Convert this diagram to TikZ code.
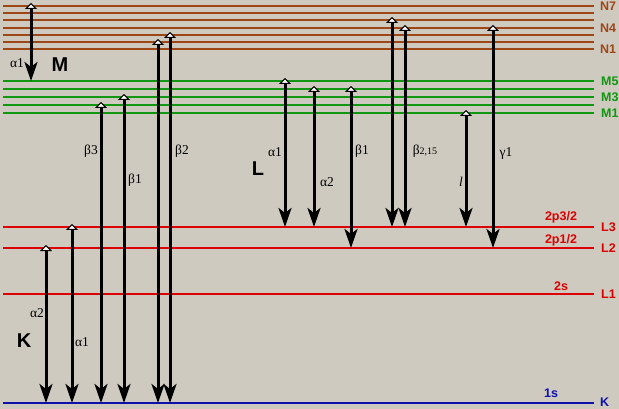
\documentclass[tikz,border=0pt]{standalone}
\usepackage{fontspec}
\setmainfont{Liberation Serif}
\newfontfamily\labfont{Liberation Sans}
\usetikzlibrary{arrows.meta}
\definecolor{bgc}{RGB}{206,202,192}
\definecolor{nbrown}{RGB}{158,70,22}
\definecolor{mgreen}{RGB}{16,150,16}
\definecolor{lred}{RGB}{220,0,0}
\definecolor{kblue}{RGB}{16,16,170}
\tikzset{
  lvl/.style={line width=2pt},
  xarrow/.style={line width=3pt,
    {Triangle[length=6pt,width=12pt,fill=white,line width=1pt]}-{Stealth[length=19pt,width=13pt,inset=5pt]}},
  lvllab/.style={anchor=west,inner sep=0pt,font=\labfont\bfseries\fontsize{12.5}{14}\selectfont},
  sublab/.style={inner sep=0pt,font=\labfont\bfseries\fontsize{12.5}{14}\selectfont},
  grk/.style={inner sep=0pt,font=\fontsize{13.5}{15}\selectfont},
  series/.style={inner sep=0pt,font=\labfont\bfseries\fontsize{20}{22}\selectfont}
}
\begin{document}
\begin{tikzpicture}[x=1pt,y=-1pt]
\fill[bgc] (0,0) rectangle (619,409);
\useasboundingbox (0,0) rectangle (619,409);
% N levels
\foreach \y in {6,13,20,28,35,42,49} \draw[lvl,nbrown] (3,\y) -- (594,\y);
% M levels
\foreach \y in {81,89,97,105,113} \draw[lvl,mgreen] (3,\y) -- (594,\y);
% L levels
\foreach \y in {227,248,294} \draw[lvl,lred] (3,\y) -- (594,\y);
% K level
\draw[lvl,kblue] (3,403) -- (594,403);
% level labels
\node[lvllab,text=nbrown] (N7) at (600,6) {N7};
\node[lvllab,text=nbrown] (N4) at (600,28) {N4};
\node[lvllab,text=nbrown] (N1) at (600,49) {N1};
\node[lvllab,text=mgreen] (M5) at (601,81) {M5};
\node[lvllab,text=mgreen] (M3) at (601,97) {M3};
\node[lvllab,text=mgreen] (M1) at (601,113) {M1};
\node[lvllab,text=lred] (L3) at (601,227) {L3};
\node[lvllab,text=lred] (L2) at (601,248) {L2};
\node[lvllab,text=lred] (L1) at (601,294) {L1};
\node[lvllab,text=kblue] (K) at (600,402.5) {K};
\node[sublab,text=lred] (s2p32) at (561,217) {2p3/2};
\node[sublab,text=lred] (s2p12) at (561,240) {2p1/2};
\node[sublab,text=lred] (s2s) at (561,286) {2s};
\node[sublab,text=kblue] (s1s) at (551,393) {1s};
% arrows
\foreach \n/\x/\ya/\yb in {Ma1/31/6/81, Ka2/46/248/403, Ka1/72/227/403, Kb3/101/105/403,
  Kb1/124/97/403, Kb2a/158/42/403, Kb2b/170/35/403, La1/285/81/227, La2/314/89/227,
  Lb1/351/89/248, Lb2a/392/20/227, Lb2b/405/28/227, Ll/466/113/227, Lg1/493/28/248}
{
  \coordinate (\n s) at (\x,\ya-3);
  \coordinate (\n e) at (\x,\yb);
  \draw[xarrow] (\n s) -- (\n e);
}
% series labels
\node[series] (Mser) at (60,65) {M};
\node[series] (Lser) at (258,169) {L};
\node[series] (Kser) at (24,341) {K};
% line labels
\node[grk] (tMa1) at (17,63) {α1};
\node[grk] (tKa2) at (37,313) {α2};
\node[grk] (tKa1) at (82,342) {α1};
\node[grk] (tKb3) at (91,151) {β3};
\node[grk] (tKb1) at (135,180) {β1};
\node[grk] (tKb2) at (182,151) {β2};
\node[grk] (tLa1) at (275,152) {α1};
\node[grk] (tLa2) at (327,182) {α2};
\node[grk] (tLb1) at (362,151) {β1};
\node[grk] (tLb2) at (425,151) {β{\fontsize{10}{12}\selectfont2,15}};
\node[grk] (tLl) at (461,182) {\itshape l};
\node[grk] (tLg1) at (506,153) {γ1};
\end{tikzpicture}
\end{document}
